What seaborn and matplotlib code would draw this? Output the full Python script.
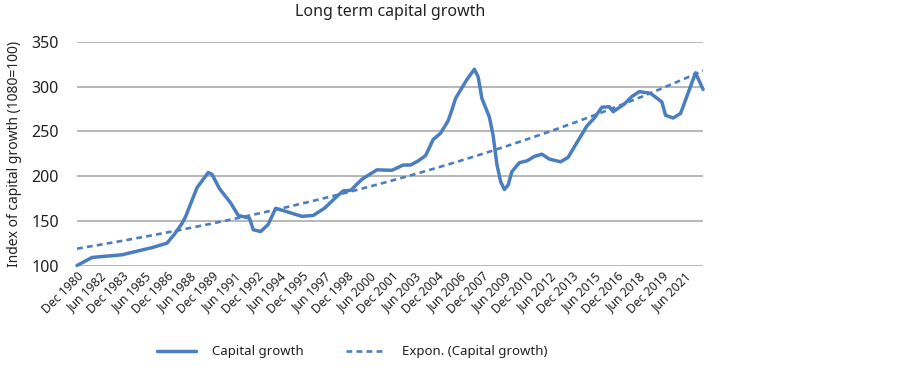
import numpy as np
import pandas as pd
import matplotlib
matplotlib.use("Agg")
import matplotlib.pyplot as plt
import seaborn as sns

# ---- data ----
periods = ["1980-12", "1981-12", "1983-12", "1984-12", "1985-12", "1986-12", "1987-06", "1987-12",
           "1988-03", "1988-12", "1989-09", "1989-12", "1990-06", "1991-03", "1991-09", "1992-06",
           "1992-09", "1993-03", "1993-09", "1994-03", "1995-12", "1996-09", "1997-06", "1998-03",
           "1998-09", "1999-03", "1999-12", "2000-12", "2001-12", "2002-09", "2003-03", "2003-09",
           "2004-03", "2004-09", "2005-03", "2005-09", "2005-12", "2006-03", "2006-12", "2007-06",
           "2007-09", "2007-12", "2008-06", "2008-09", "2008-12", "2009-03", "2009-06", "2009-09",
           "2009-12", "2010-06", "2010-12", "2011-06", "2011-12", "2012-06", "2013-03", "2013-09",
           "2013-12", "2014-03", "2014-12", "2015-06", "2015-12", "2016-06", "2016-09", "2017-06",
           "2017-12", "2018-06", "2019-03", "2019-12", "2020-03", "2020-09", "2021-03", "2022-03",
           "2022-09"]
capital_growth = [100, 109, 112, 116, 120, 125, 135, 147,
                  155, 187, 204, 202, 186, 170, 156, 153,
                  140, 138, 146, 164, 155, 156, 164, 176,
                  183.5, 184, 196.5, 207, 206.5, 212.4, 212.4, 217,
                  223, 241, 248, 262, 274, 287, 308, 319.5,
                  311, 287, 266, 245, 213, 194, 185, 190,
                  205, 215, 217, 222, 224.5, 219, 216, 221,
                  228, 235, 256, 265, 277, 277.6, 272, 280.6,
                  289, 294.5, 292.6, 283, 268, 265, 270, 315.5,
                  297]
tick_labels = ["Dec 1980", "Jun 1982", "Dec 1983", "Jun 1985", "Dec 1986", "Jun 1988", "Dec 1989",
               "Jun 1991", "Dec 1992", "Jun 1994", "Dec 1995", "Jun 1997", "Dec 1998", "Jun 2000",
               "Dec 2001", "Jun 2003", "Dec 2004", "Jun 2006", "Dec 2007", "Jun 2009", "Dec 2010",
               "Jun 2012", "Dec 2013", "Jun 2015", "Dec 2016", "Jun 2018", "Dec 2019", "Jun 2021"]
y_ticks = [100, 150, 200, 250, 300, 350]

# ---- build frames ----
df = pd.DataFrame({"date": pd.to_datetime(periods, format="%Y-%m"), "value": capital_growth})
tick_pos = pd.to_datetime(tick_labels, format="%b %Y")

# exponential trend fitted to the series (each point weighted by the time span it covers)
t_years = np.asarray((df["date"] - df["date"].iloc[0]).dt.days / 365.25)
gaps = np.diff(t_years)
span = np.concatenate([[gaps[0] / 2], (gaps[:-1] + gaps[1:]) / 2, [gaps[-1] / 2]])
b, log_a = np.polyfit(t_years, np.log(df["value"]), 1, w=np.sqrt(span))
trend_dates = pd.date_range(df["date"].iloc[0], df["date"].iloc[-1], periods=200)
trend_t = np.asarray((trend_dates - df["date"].iloc[0]).days / 365.25)
trend_df = pd.DataFrame({"date": trend_dates, "value": np.exp(log_a + b * trend_t)})

# ---- style ----
sns.set_theme(style="whitegrid")
plt.rcParams["font.family"] = ["Noto Sans", "DejaVu Sans"]
blue = "#4a7ebf"
ink = "#222222"

fig = plt.figure(figsize=(9, 3.78), dpi=100)
ax = fig.add_axes([0.0856, 0.2976, 0.6956, 0.5913])

sns.lineplot(data=df, x="date", y="value", ax=ax, color=blue, linewidth=2.5,
             label="Capital growth", clip_on=False)
sns.lineplot(data=trend_df, x="date", y="value", ax=ax, color=blue, linewidth=1.9,
             linestyle=(0, (2.2, 1.6)), label="Expon. (Capital growth)")

ax.set_xlim(df["date"].iloc[0], df["date"].iloc[-1])
ax.set_ylim(100, 350)
ax.set_yticks(y_ticks)
ax.set_xticks(tick_pos)
ax.set_xticklabels(tick_labels, rotation=45, ha="right", rotation_mode="anchor",
                   fontsize=8.8, color=ink)
ax.tick_params(axis="y", labelsize=11.5, colors=ink, length=0, pad=13)
ax.tick_params(axis="x", length=0, pad=3)
ax.grid(axis="x", visible=False)
ax.grid(axis="y", color="#b8b8b8", linewidth=1.4)
for s in ax.spines.values():
    s.set_visible(False)

ax.set_xlabel("")
ax.set_ylabel("Index of capital growth (1080=100)", fontsize=10, color=ink, labelpad=7)
ax.set_title("Long term capital growth", fontsize=11.5, color=ink, pad=19)

ax.get_legend().remove()
handles, labels = ax.get_legend_handles_labels()
fig.legend(handles, labels, loc="center", bbox_to_anchor=(352 / 900, 1 - 352 / 378), ncol=2,
           frameon=False, fontsize=9.5, handlelength=3.0, columnspacing=3.2, handletextpad=1.2,
           labelcolor=ink)

fig.savefig("out.png", dpi=100)
